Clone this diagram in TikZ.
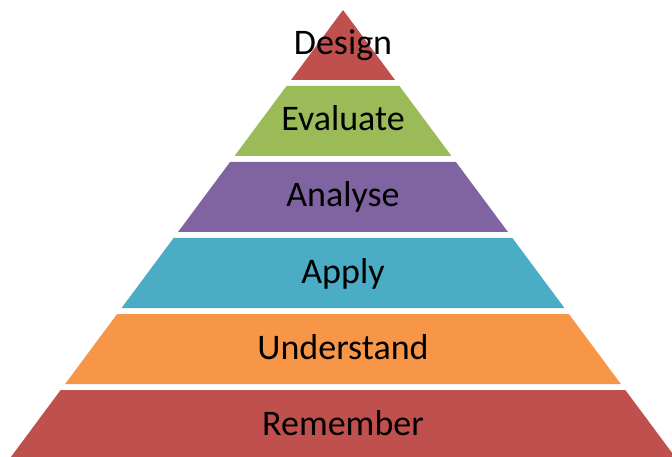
\documentclass[tikz,border=0pt]{standalone}
\usepackage{fontspec}
\setmainfont{Carlito}
\usepackage{tikz}
\usetikzlibrary{positioning}

\definecolor{layred}{HTML}{C0504D}
\definecolor{laygreen}{HTML}{9BBB59}
\definecolor{laypurple}{HTML}{8064A2}
\definecolor{layaqua}{HTML}{4BACC6}
\definecolor{layorange}{HTML}{F79646}

\begin{document}
\begin{tikzpicture}[x=1pt,y=-1pt,node distance=76pt,on grid,
    level/.style={font=\fontsize{36}{40}\selectfont,text height=26pt,text depth=8pt,inner sep=0pt}]
    \clip (0,0) rectangle (672,457);
    \foreach \col [count=\i from 0] in {layred,laygreen,laypurple,layaqua,layorange,layred} {
      \pgfmathsetmacro\ytop{10+76*\i}
      \pgfmathsetmacro\ybot{\ytop+70}
      \pgfmathsetmacro\wtop{0.743*(\ytop-10)}
      \pgfmathsetmacro\wbot{0.743*(\ybot-10)}
      \fill[\col] (343-\wtop,\ytop) -- (343+\wtop,\ytop) -- (343+\wbot,\ybot) -- (343-\wbot,\ybot) -- cycle;
    }
    \node[level] (design)                          at (343,46) {Design};
    \node[level] (evaluate)   [below=of design]     {Evaluate};
    \node[level] (analyse)    [below=of evaluate]   {Analyse};
    \node[level] (apply)      [below=of analyse]    {Apply};
    \node[level] (understand) [below=of apply]      {Understand};
    \node[level] (remember)   [below=of understand] {Remember};
  \end{tikzpicture}
\end{document}
